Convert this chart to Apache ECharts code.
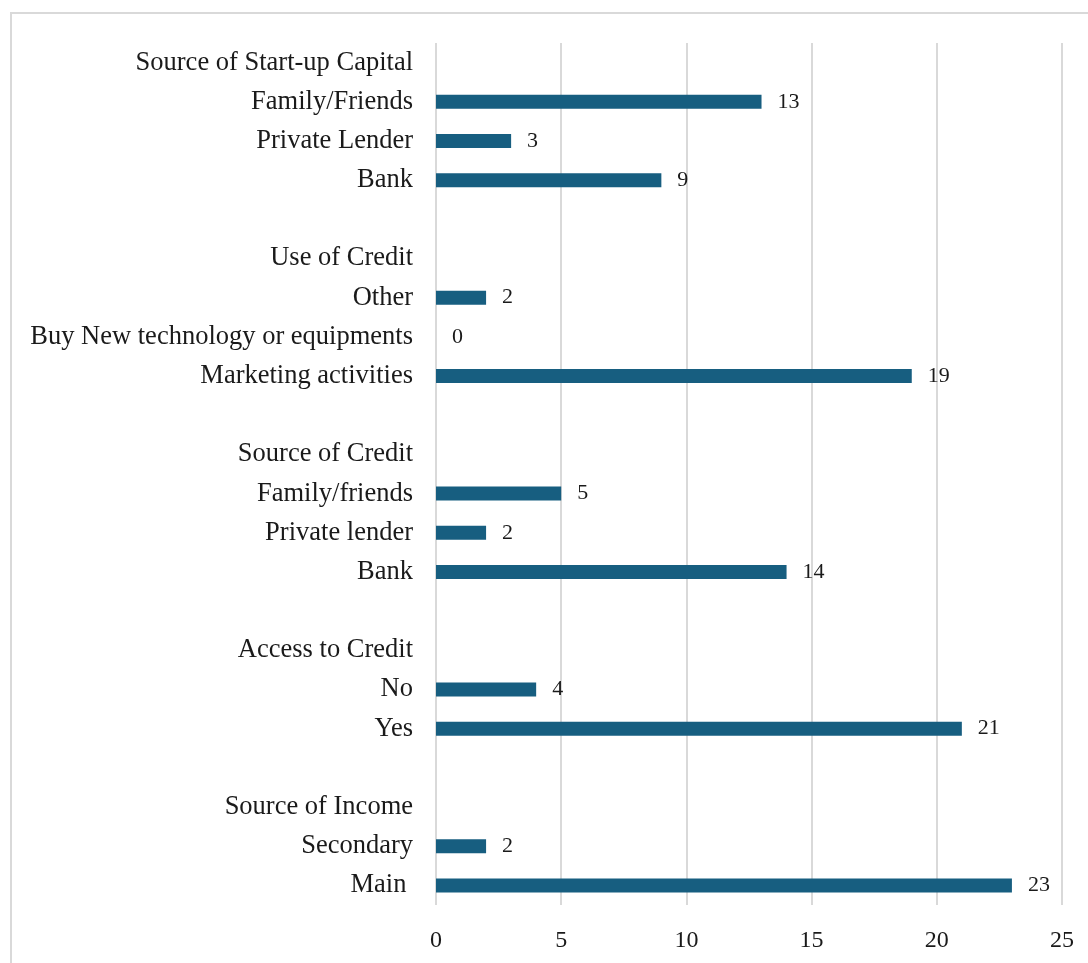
<!DOCTYPE html>
<html>
<head>
<meta charset="utf-8">
<script src="https://cdn.jsdelivr.net/npm/echarts@6/dist/echarts.min.js"></script>
<style>
  html, body { margin: 0; padding: 0; background: #fff; }
  #chart { width: 1088px; height: 963px; }
</style>
</head>
<body>
<div id="chart"></div>
<script>
// Rows from top to bottom: group headings, items, and spacer rows between groups
const categories = [
  'Source of Start-up Capital', 'Family/Friends', 'Private Lender', 'Bank', '',
  'Use of Credit', 'Other', 'Buy New technology or equipments', 'Marketing activities', '',
  'Source of Credit', 'Family/friends', 'Private lender', 'Bank', '',
  'Access to Credit', 'No', 'Yes', '',
  'Source of Income', 'Secondary', 'Main '
];
// Respondent counts per row (null = heading or spacer, no bar)
const counts = [
  null, 13, 3, 9, null,
  null, 2, 0, 19, null,
  null, 5, 2, 14, null,
  null, 4, 21, null,
  null, 2, 23
];
const xTicks = { min: 0, max: 25, interval: 5 };

const chart = echarts.init(document.getElementById('chart'), null, { renderer: 'canvas' });
const font = '"Liberation Serif", "Times New Roman", serif';

chart.setOption({
  animation: false,
  backgroundColor: '#ffffff',
  graphic: [{
    type: 'rect',
    shape: { x: 11, y: 13, width: 1200, height: 1100 },
    style: { fill: 'none', stroke: '#d9d9d9', lineWidth: 2 },
    silent: true,
    z: -1
  }],
  grid: { left: 436, right: 26, top: 43, bottom: 58, containLabel: false },
  xAxis: {
    type: 'value',
    min: xTicks.min,
    max: xTicks.max,
    interval: xTicks.interval,
    axisLine: { show: false },
    axisTick: { show: false },
    splitLine: { show: true, lineStyle: { color: '#d9d9d9', width: 2 } },
    axisLabel: { color: '#1a1a1a', fontFamily: font, fontSize: 24, margin: 24 }
  },
  yAxis: {
    type: 'category',
    data: categories,
    inverse: true,
    axisLine: { show: false },
    axisTick: { show: false },
    splitLine: { show: false },
    axisLabel: { color: '#1a1a1a', fontFamily: font, fontSize: 26.5, margin: 23, interval: 0 }
  },
  series: [{
    type: 'bar',
    data: counts,
    barWidth: 14,
    itemStyle: { color: '#175e80' },
    label: {
      show: true,
      position: 'right',
      distance: 16,
      color: '#1a1a1a',
      fontFamily: font,
      fontSize: 22,
      formatter: p => (p.value === null || p.value === undefined) ? '' : String(p.value)
    }
  }]
});
</script>
</body>
</html>
